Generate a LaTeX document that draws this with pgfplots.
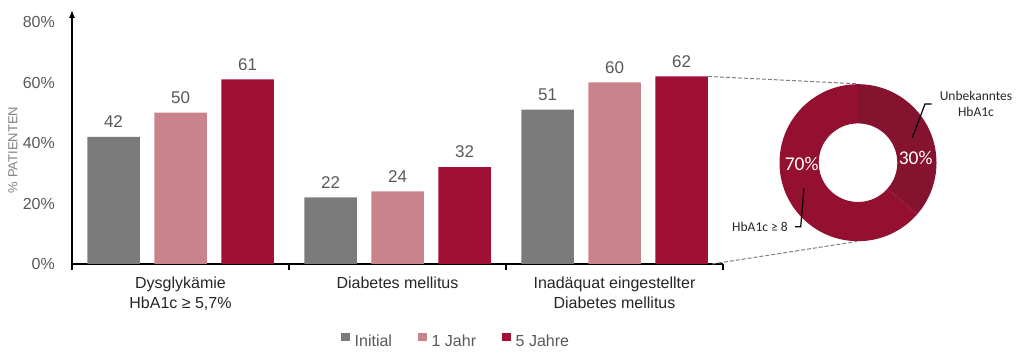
\documentclass[border=0pt]{standalone}
\usepackage{pgfplots}
\pgfplotsset{compat=1.18}
\usepackage{fontspec}
\setmainfont{Liberation Sans}
\newfontfamily\calibri{Carlito}
\usetikzlibrary{arrows.meta}
\definecolor{cgray}{HTML}{7B7B7B}
\definecolor{cpink}{HTML}{C9848B}
\definecolor{cred}{HTML}{A10F34}
\definecolor{dmain}{HTML}{931030}
\definecolor{ddark}{HTML}{85122F}
\definecolor{tgray}{HTML}{595959}
\definecolor{tdark}{HTML}{262626}
\definecolor{lgray}{HTML}{808080}
\begin{document}
\begin{tikzpicture}
\useasboundingbox (0pt,0pt) rectangle (1025pt,358pt);
\begin{axis}[at={(72pt,94pt)}, anchor=south west, width=651pt, height=254.1pt, scale only axis,
  xmin=0, xmax=3, ymin=0, ymax=84,
  axis x line*=bottom, axis y line*=left,
  axis line style={line width=1.3pt, black},
  y axis line style={-{Latex[length=8pt,width=6pt]}},
  /pgf/number format/assume math mode=true,
  ytick={0,20,40,60,80},
  yticklabel={\pgfmathprintnumber{\tick}\%},
  yticklabel style={font=\fontsize{16}{19}\selectfont, text=tgray, inner sep=0pt, xshift=-17pt},
  ytick style={draw=none},
  xtick={0.5,1.5,2.5},
  xticklabels={{Dysglykämie\\HbA1c ≥ 5,7\%},{Diabetes mellitus},{Inadäquat eingestellter\\Diabetes mellitus}},
  xticklabel style={align=center, font=\fontsize{16}{20}\selectfont, text=tdark, inner sep=0pt, yshift=-13pt},
  major tick length=0pt,
  minor xtick={0,1,2,3},
  minor tick length=6pt,
  tick align=outside,
  minor tick style={line width=1.3pt, black},
  ybar=14.5pt, bar width=52.5pt,
  nodes near coords,
  every node near coord/.append style={font=\fontsize{17}{20}\selectfont, text=tgray, inner sep=0pt, yshift=9pt},
  legend style={draw=none, at={(0.59,-0.303)}, anchor=center, legend columns=-1,
     font=\fontsize{16}{19}\selectfont, text=tgray,
     /tikz/every odd column/.append style={column sep=3pt},
     /tikz/every even column/.append style={column sep=24pt}},
  legend image code/.code={\fill[#1,draw=none] (0pt,0pt) rectangle (8.6pt,8.4pt);},
  clip=false,
]
\addplot[fill=cgray, draw=none] coordinates {(0.5,42) (1.5,22) (2.5,51)};
\addplot[fill=cpink, draw=none] coordinates {(0.5,50) (1.5,24) (2.5,60)};
\addplot[fill=cred, draw=none] coordinates {(0.5,61) (1.5,32) (2.5,62)};
\legend{Initial, 1 Jahr, 5 Jahre}
\end{axis}
% overlay axis in pixel units (y measured upward)
\begin{axis}[at={(0pt,0pt)}, anchor=south west, width=1025pt, height=358pt,
  scale only axis, xmin=0, xmax=1025, ymin=0, ymax=358, hide axis, clip=false]
  \fill[ddark] (axis cs:858,273.8) arc[start angle=90, end angle=-41, radius=78.5pt]
     -- (axis cs:887.66,169.52) arc[start angle=-41, end angle=90, radius=39.3pt] -- cycle;
  \fill[dmain] (axis cs:858,273.8) arc[start angle=90, end angle=319, radius=78.5pt]
     -- (axis cs:887.66,169.52) arc[start angle=319, end angle=90, radius=39.3pt] -- cycle;
  \node[text=white, font=\calibri\fontsize{19.5}{22}\selectfont] at (axis cs:801.7,193.7) {70\%};
  \node[text=white, font=\calibri\fontsize{19.5}{22}\selectfont] at (axis cs:915.7,200.3) {30\%};
  \draw[black, line width=1.2pt] (axis cs:931.7,254) -- (axis cs:925,254) -- (axis cs:912.3,220.3);
  \draw[black, line width=1.2pt] (axis cs:795,131.3) -- (axis cs:800.7,131.3) -- (axis cs:804,169.7);
  \node[text=tdark, align=center, font=\calibri\fontsize{13.5}{16}\selectfont] at (axis cs:976,254) {Unbekanntes\\HbA1c};
  \node[text=tdark, font=\calibri\fontsize{13.5}{16}\selectfont] at (axis cs:760,131.3) {HbA1c ≥ 8};
  \draw[lgray, line width=1pt, dash pattern=on 4pt off 2pt] (axis cs:708,281.6) -- (axis cs:857,274.2);
  \draw[lgray, line width=1pt, dash pattern=on 4pt off 2pt] (axis cs:712,94) -- (axis cs:857,116.5);
  \node[rotate=90, text=lgray, font=\fontsize{13}{15}\selectfont] at (axis cs:13,208) {\% PATIENTEN};
\end{axis}
\end{tikzpicture}
\end{document}
